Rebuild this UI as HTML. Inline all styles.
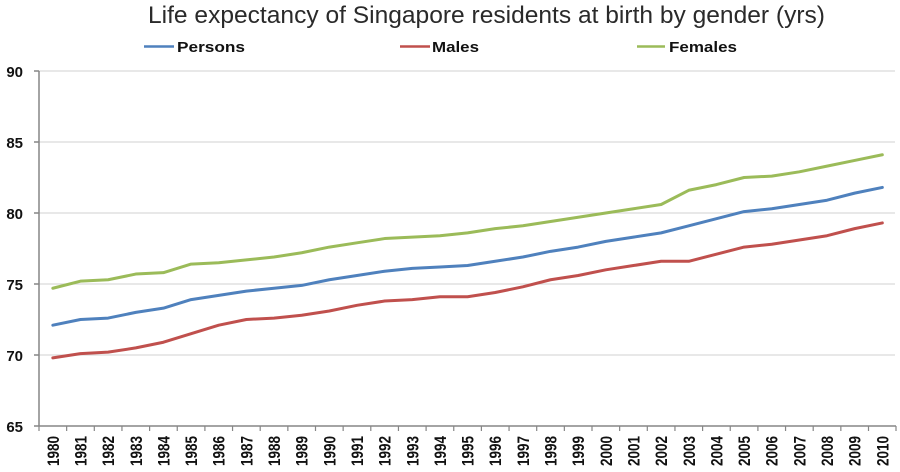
<!DOCTYPE html>
<html>
<head>
<meta charset="utf-8">
<style>
html,body{margin:0;padding:0;background:#fff;}
svg{display:block;}
text{font-family:"Liberation Sans",Arial,sans-serif;}
</style>
</head>
<body>
<svg width="900" height="472" viewBox="0 0 900 472" xmlns="http://www.w3.org/2000/svg">
  <rect width="900" height="472" fill="#fff"/>
  <!-- Title -->
  <text x="148" y="23" font-size="24.5" fill="#2a2a2a" textLength="677" lengthAdjust="spacingAndGlyphs">Life expectancy of Singapore residents at birth by gender (yrs)</text>

  <!-- Legend -->
  <line x1="144" y1="46.5" x2="174" y2="46.5" stroke="#4f81bd" stroke-width="2.5"/>
  <text x="177" y="52" font-size="15" font-weight="bold" fill="#111" textLength="68" lengthAdjust="spacingAndGlyphs">Persons</text>
  <line x1="400" y1="46.5" x2="430" y2="46.5" stroke="#c0504d" stroke-width="2.5"/>
  <text x="432" y="52" font-size="15" font-weight="bold" fill="#111" textLength="47" lengthAdjust="spacingAndGlyphs">Males</text>
  <line x1="637" y1="46.5" x2="665" y2="46.5" stroke="#9bbb59" stroke-width="2.5"/>
  <text x="669" y="52" font-size="15" font-weight="bold" fill="#111" textLength="68" lengthAdjust="spacingAndGlyphs">Females</text>

  <!-- Gridlines -->
  <g stroke="#d9d9d9" stroke-width="1.2">
    <line x1="39" y1="71" x2="895" y2="71"/>
    <line x1="39" y1="142" x2="895" y2="142"/>
    <line x1="39" y1="213" x2="895" y2="213"/>
    <line x1="39" y1="284" x2="895" y2="284"/>
    <line x1="39" y1="355" x2="895" y2="355"/>
  </g>

  <!-- Axes -->
  <g stroke="#868686" stroke-width="1.5">
    <line x1="39" y1="71" x2="39" y2="426"/>
    <line x1="39" y1="426" x2="896" y2="426"/>
    <line x1="34" y1="71" x2="39" y2="71"/>
    <line x1="34" y1="142" x2="39" y2="142"/>
    <line x1="34" y1="213" x2="39" y2="213"/>
    <line x1="34" y1="284" x2="39" y2="284"/>
    <line x1="34" y1="355" x2="39" y2="355"/>
    <line x1="34" y1="426" x2="39" y2="426"/>
  </g>
  <g stroke="#868686" stroke-width="1.2">
    <line x1="39" y1="426" x2="39" y2="431"/>
    <line x1="66.65" y1="426" x2="66.65" y2="431"/>
    <line x1="94.3" y1="426" x2="94.3" y2="431"/>
    <line x1="121.95" y1="426" x2="121.95" y2="431"/>
    <line x1="149.6" y1="426" x2="149.6" y2="431"/>
    <line x1="177.25" y1="426" x2="177.25" y2="431"/>
    <line x1="204.9" y1="426" x2="204.9" y2="431"/>
    <line x1="232.55" y1="426" x2="232.55" y2="431"/>
    <line x1="260.2" y1="426" x2="260.2" y2="431"/>
    <line x1="287.85" y1="426" x2="287.85" y2="431"/>
    <line x1="315.5" y1="426" x2="315.5" y2="431"/>
    <line x1="343.15" y1="426" x2="343.15" y2="431"/>
    <line x1="370.8" y1="426" x2="370.8" y2="431"/>
    <line x1="398.45" y1="426" x2="398.45" y2="431"/>
    <line x1="426.1" y1="426" x2="426.1" y2="431"/>
    <line x1="453.75" y1="426" x2="453.75" y2="431"/>
    <line x1="481.4" y1="426" x2="481.4" y2="431"/>
    <line x1="509.05" y1="426" x2="509.05" y2="431"/>
    <line x1="536.7" y1="426" x2="536.7" y2="431"/>
    <line x1="564.35" y1="426" x2="564.35" y2="431"/>
    <line x1="592" y1="426" x2="592" y2="431"/>
    <line x1="619.65" y1="426" x2="619.65" y2="431"/>
    <line x1="647.3" y1="426" x2="647.3" y2="431"/>
    <line x1="674.95" y1="426" x2="674.95" y2="431"/>
    <line x1="702.6" y1="426" x2="702.6" y2="431"/>
    <line x1="730.25" y1="426" x2="730.25" y2="431"/>
    <line x1="757.9" y1="426" x2="757.9" y2="431"/>
    <line x1="785.55" y1="426" x2="785.55" y2="431"/>
    <line x1="813.2" y1="426" x2="813.2" y2="431"/>
    <line x1="840.85" y1="426" x2="840.85" y2="431"/>
    <line x1="868.5" y1="426" x2="868.5" y2="431"/>
    <line x1="896" y1="426" x2="896" y2="431"/>
  </g>

  <!-- Y labels -->
  <g font-size="15" font-weight="bold" fill="#111" text-anchor="end">
    <text x="23" y="77">90</text>
    <text x="23" y="148">85</text>
    <text x="23" y="219">80</text>
    <text x="23" y="290">75</text>
    <text x="23" y="361">70</text>
    <text x="23" y="432">65</text>
  </g>

  <!-- X labels -->
  <g font-size="13.5" font-weight="bold" fill="#111" text-anchor="end" dominant-baseline="central">
    <text transform="translate(53.8,436) rotate(-90) scale(1,1.25)">1980</text>
    <text transform="translate(81.5,436) rotate(-90) scale(1,1.25)">1981</text>
    <text transform="translate(109.1,436) rotate(-90) scale(1,1.25)">1982</text>
    <text transform="translate(136.8,436) rotate(-90) scale(1,1.25)">1983</text>
    <text transform="translate(164.4,436) rotate(-90) scale(1,1.25)">1984</text>
    <text transform="translate(192.1,436) rotate(-90) scale(1,1.25)">1985</text>
    <text transform="translate(219.7,436) rotate(-90) scale(1,1.25)">1986</text>
    <text transform="translate(247.4,436) rotate(-90) scale(1,1.25)">1987</text>
    <text transform="translate(275.0,436) rotate(-90) scale(1,1.25)">1988</text>
    <text transform="translate(302.7,436) rotate(-90) scale(1,1.25)">1989</text>
    <text transform="translate(330.3,436) rotate(-90) scale(1,1.25)">1990</text>
    <text transform="translate(358.0,436) rotate(-90) scale(1,1.25)">1991</text>
    <text transform="translate(385.6,436) rotate(-90) scale(1,1.25)">1992</text>
    <text transform="translate(413.3,436) rotate(-90) scale(1,1.25)">1993</text>
    <text transform="translate(440.9,436) rotate(-90) scale(1,1.25)">1994</text>
    <text transform="translate(468.6,436) rotate(-90) scale(1,1.25)">1995</text>
    <text transform="translate(496.2,436) rotate(-90) scale(1,1.25)">1996</text>
    <text transform="translate(523.9,436) rotate(-90) scale(1,1.25)">1997</text>
    <text transform="translate(551.5,436) rotate(-90) scale(1,1.25)">1998</text>
    <text transform="translate(579.2,436) rotate(-90) scale(1,1.25)">1999</text>
    <text transform="translate(606.8,436) rotate(-90) scale(1,1.25)">2000</text>
    <text transform="translate(634.5,436) rotate(-90) scale(1,1.25)">2001</text>
    <text transform="translate(662.1,436) rotate(-90) scale(1,1.25)">2002</text>
    <text transform="translate(689.8,436) rotate(-90) scale(1,1.25)">2003</text>
    <text transform="translate(717.4,436) rotate(-90) scale(1,1.25)">2004</text>
    <text transform="translate(745.1,436) rotate(-90) scale(1,1.25)">2005</text>
    <text transform="translate(772.7,436) rotate(-90) scale(1,1.25)">2006</text>
    <text transform="translate(800.4,436) rotate(-90) scale(1,1.25)">2007</text>
    <text transform="translate(828.0,436) rotate(-90) scale(1,1.25)">2008</text>
    <text transform="translate(855.7,436) rotate(-90) scale(1,1.25)">2009</text>
    <text transform="translate(883.3,436) rotate(-90) scale(1,1.25)">2010</text>
  </g>

  <!-- Series -->
  <g transform="matrix(27.65 0 0 -14.2 52.825 1349)" fill="none" stroke-width="3" stroke-linejoin="round" stroke-linecap="round">
    <polyline vector-effect="non-scaling-stroke" stroke="#9bbb59" points="0,74.7 1,75.2 2,75.3 3,75.7 4,75.8 5,76.4 6,76.5 7,76.7 8,76.9 9,77.2 10,77.6 11,77.9 12,78.2 13,78.3 14,78.4 15,78.6 16,78.9 17,79.1 18,79.4 19,79.7 20,80.0 21,80.3 22,80.6 23,81.6 24,82.0 25,82.5 26,82.6 27,82.9 28,83.3 29,83.7 30,84.1"/>
    <polyline vector-effect="non-scaling-stroke" stroke="#4f81bd" points="0,72.1 1,72.5 2,72.6 3,73.0 4,73.3 5,73.9 6,74.2 7,74.5 8,74.7 9,74.9 10,75.3 11,75.6 12,75.9 13,76.1 14,76.2 15,76.3 16,76.6 17,76.9 18,77.3 19,77.6 20,78.0 21,78.3 22,78.6 23,79.1 24,79.6 25,80.1 26,80.3 27,80.6 28,80.9 29,81.4 30,81.8"/>
    <polyline vector-effect="non-scaling-stroke" stroke="#c0504d" points="0,69.8 1,70.1 2,70.2 3,70.5 4,70.9 5,71.5 6,72.1 7,72.5 8,72.6 9,72.8 10,73.1 11,73.5 12,73.8 13,73.9 14,74.1 15,74.1 16,74.4 17,74.8 18,75.3 19,75.6 20,76.0 21,76.3 22,76.6 23,76.6 24,77.1 25,77.6 26,77.8 27,78.1 28,78.4 29,78.9 30,79.3"/>
  </g>
</svg>
</body>
</html>
